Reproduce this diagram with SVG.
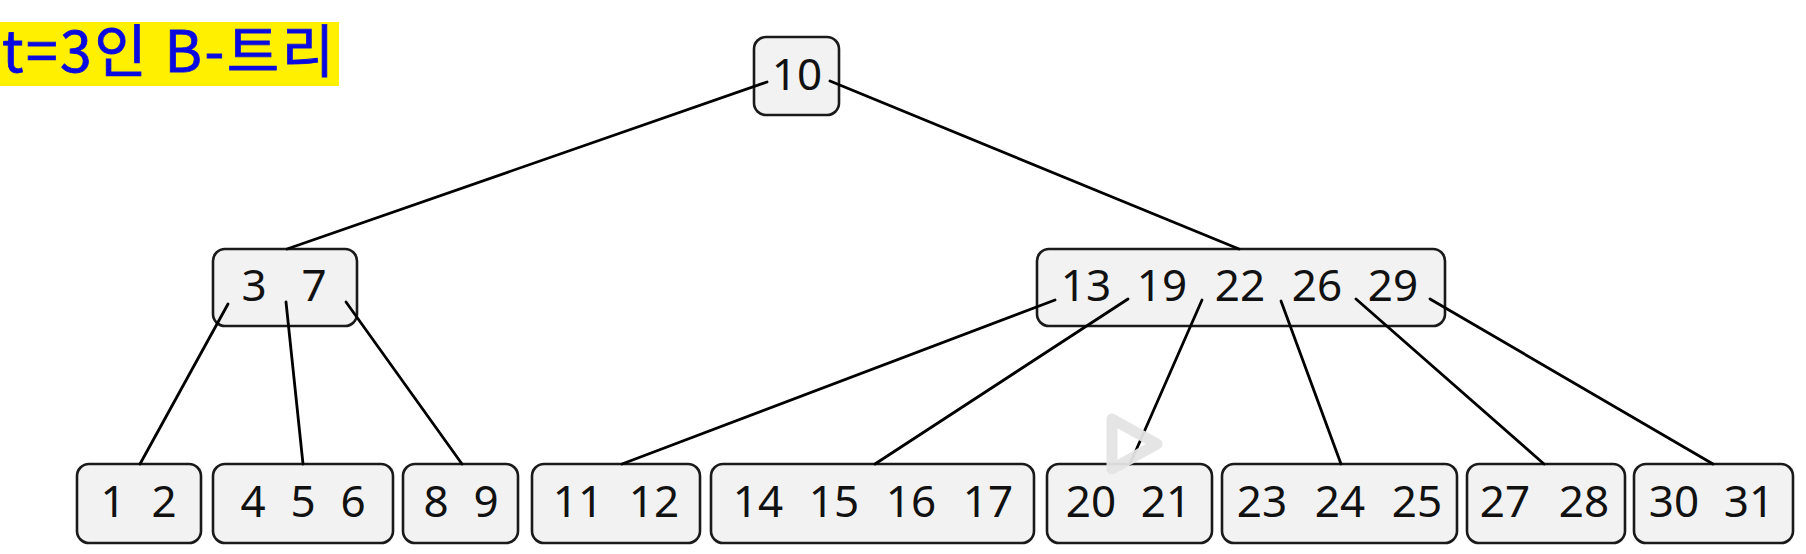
<svg xmlns="http://www.w3.org/2000/svg" width="1806" height="554" viewBox="0 0 1806 554">
<style>
.box{fill:#f2f2f2;stroke:#1a1a1a;stroke-width:2.6}
.num{font-family:"Noto Sans","DejaVu Sans",sans-serif;font-size:44px;fill:#111;text-anchor:middle}
.edge{stroke:#000;stroke-width:2.8;fill:none;stroke-linecap:round}
.title{font-family:"Noto Sans CJK KR","Noto Sans",sans-serif;font-size:57px;letter-spacing:2.5px;fill:#0a0ae0;stroke:#0a0ae0;stroke-width:0.8}
</style>
<rect width="1806" height="554" fill="#ffffff"/>
<g id="title">
<rect x="0" y="22" width="339" height="64" fill="#fff000"/>
<text class="title" x="2" y="72">t=3인 B-트리</text>
</g>
<g id="node-10">
<rect class="box" x="754" y="37" width="85" height="78" rx="12"/>
<text class="num" y="90"><tspan x="797">10</tspan></text>
</g>
<g id="node-3-7">
<rect class="box" x="213" y="249" width="144" height="77" rx="12"/>
<text class="num" y="301"><tspan x="254">3</tspan><tspan x="314">7</tspan></text>
</g>
<g id="node-13-29">
<rect class="box" x="1037" y="249" width="408" height="77" rx="12"/>
<text class="num" y="301"><tspan x="1086">13</tspan><tspan x="1162">19</tspan><tspan x="1240">22</tspan><tspan x="1317">26</tspan><tspan x="1393">29</tspan></text>
</g>
<g id="node-1-2">
<rect class="box" x="77" y="464" width="124" height="79" rx="12"/>
<text class="num" y="517"><tspan x="113">1</tspan><tspan x="164">2</tspan></text>
</g>
<g id="node-4-6">
<rect class="box" x="213" y="464" width="180" height="79" rx="12"/>
<text class="num" y="517"><tspan x="253">4</tspan><tspan x="303">5</tspan><tspan x="353">6</tspan></text>
</g>
<g id="node-8-9">
<rect class="box" x="403" y="464" width="115" height="79" rx="12"/>
<text class="num" y="517"><tspan x="436">8</tspan><tspan x="486">9</tspan></text>
</g>
<g id="node-11-12">
<rect class="box" x="532" y="464" width="168" height="79" rx="12"/>
<text class="num" y="517"><tspan x="578">11</tspan><tspan x="654">12</tspan></text>
</g>
<g id="node-14-17">
<rect class="box" x="711" y="464" width="323" height="79" rx="12"/>
<text class="num" y="517"><tspan x="758">14</tspan><tspan x="834">15</tspan><tspan x="911">16</tspan><tspan x="988">17</tspan></text>
</g>
<g id="node-20-21">
<rect class="box" x="1047" y="464" width="165" height="79" rx="12"/>
<text class="num" y="517"><tspan x="1091">20</tspan><tspan x="1166">21</tspan></text>
</g>
<g id="node-23-25">
<rect class="box" x="1222" y="464" width="235" height="79" rx="12"/>
<text class="num" y="517"><tspan x="1262">23</tspan><tspan x="1340">24</tspan><tspan x="1417">25</tspan></text>
</g>
<g id="node-27-28">
<rect class="box" x="1467" y="464" width="158" height="79" rx="12"/>
<text class="num" y="517"><tspan x="1505">27</tspan><tspan x="1584">28</tspan></text>
</g>
<g id="node-30-31">
<rect class="box" x="1634" y="464" width="159" height="79" rx="12"/>
<text class="num" y="517"><tspan x="1674">30</tspan><tspan x="1749">31</tspan></text>
</g>
<g id="connectors">
<line class="edge" x1="767" y1="82" x2="287" y2="249"/>
<line class="edge" x1="830" y1="81" x2="1239" y2="249"/>
<line class="edge" x1="228" y1="304" x2="140" y2="464"/>
<line class="edge" x1="286" y1="302" x2="303" y2="464"/>
<line class="edge" x1="346" y1="302" x2="462" y2="464"/>
<line class="edge" x1="1055" y1="300" x2="622" y2="464"/>
<line class="edge" x1="1128" y1="299" x2="875" y2="464"/>
<line class="edge" x1="1202" y1="300" x2="1130" y2="464"/>
<line class="edge" x1="1281" y1="301" x2="1341" y2="464"/>
<line class="edge" x1="1356" y1="299" x2="1544" y2="464"/>
<line class="edge" x1="1430" y1="299" x2="1713" y2="464"/>
</g>
<g id="play-icon">
<polygon points="1112,419 1112,469 1157,444" fill="none" stroke="#e4e4e4" stroke-width="11" stroke-linejoin="round" opacity="0.95"/>
</g>
</svg>
